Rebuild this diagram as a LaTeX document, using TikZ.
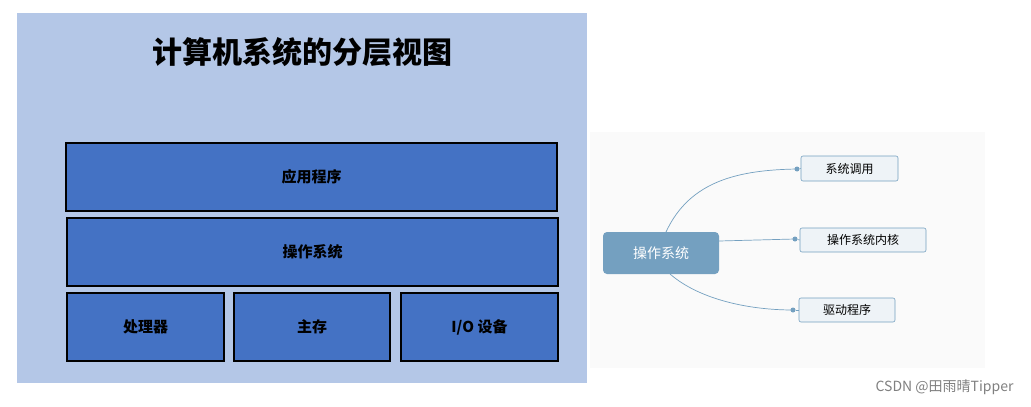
\documentclass[tikz,border=0pt]{standalone}
\usepackage{fontspec}
\newfontfamily\cjk{Noto Sans CJK SC}
\newfontfamily\cjkb{Noto Sans CJK SC Bold}
\begin{document}
\begin{tikzpicture}[x=1pt,y=-1pt,
  layer/.style={draw=black,line width=1.8pt,fill=laybl,font=\cjk\bfseries\fontsize{15}{18}\selectfont,inner sep=0},
  leaf/.style={draw=mmln,fill=leafbg,rounded corners=2pt,font=\cjk\fontsize{12}{14}\selectfont,inner sep=0,line width=0.6pt},
  conn/.style={draw=mmln,line width=0.7pt},
  dotc/.style={circle,fill=mmln,inner sep=0,minimum size=5pt}]
\definecolor{panelbl}{RGB}{180,199,231}
\definecolor{laybl}{RGB}{68,114,196}
\definecolor{mmln}{RGB}{116,160,192}
\definecolor{leafbg}{RGB}{238,243,247}
\definecolor{panelgr}{RGB}{250,250,250}
\useasboundingbox (0,0) rectangle (1031,407);
\fill[white] (0,0) rectangle (1031,407);
\fill[panelbl] (17,13) rectangle (587,383);
\node (title) at (302,52) {\cjk\bfseries\fontsize{30}{34}\selectfont 计算机系统的分层视图};
\node[layer,minimum width=491pt,minimum height=68pt] (app) at (311.5,177) {应用程序};
\node[layer,minimum width=491pt,minimum height=68pt] (os) at (312.5,252) {操作系统};
\node[layer,minimum width=157pt,minimum height=68pt] (cpu) at (145.5,327) {处理器};
\node[layer,minimum width=156pt,minimum height=68pt] (mem) at (312,327) {主存};
\node[layer,minimum width=157pt,minimum height=68pt] (io) at (479.5,327) {I/O 设备};
\fill[panelgr] (590,132) rectangle (985,368);
\node[fill=mmln,rounded corners=4pt,minimum width=116pt,minimum height=42pt,inner sep=0,text=white,font=\cjk\fontsize{14}{16}\selectfont] (root) at (661,253) {操作系统};
\node[leaf,minimum width=97pt,minimum height=25pt] (l1) at (849.5,168.5) {系统调用};
\node[leaf,minimum width=126pt,minimum height=24pt] (l2) at (863,240) {操作系统内核};
\node[leaf,minimum width=96pt,minimum height=24pt] (l3) at (847,310) {驱动程序};
\node[dotc] (d1) at (797,169) {};
\node[dotc] (d2) at (795,239) {};
\node[dotc] (d3) at (793,310) {};
\draw[conn] (666,232) .. controls (690,180) and (740,170) .. (d1.center);
\draw[conn] (root.east|-0,241) -- (d2.center);
\draw[conn] (670,274) .. controls (700,300) and (750,310) .. (d3.center);
\draw[conn] (d1) -- (l1.west);
\draw[conn] (d2) -- (l2.west);
\draw[conn] (d3) -- (l3.west);
\node[text=gray,anchor=east,font=\cjk\fontsize{14}{16}\selectfont] (wm) at (1017,387) {CSDN @田雨晴Tipper};
\end{tikzpicture}
\end{document}
